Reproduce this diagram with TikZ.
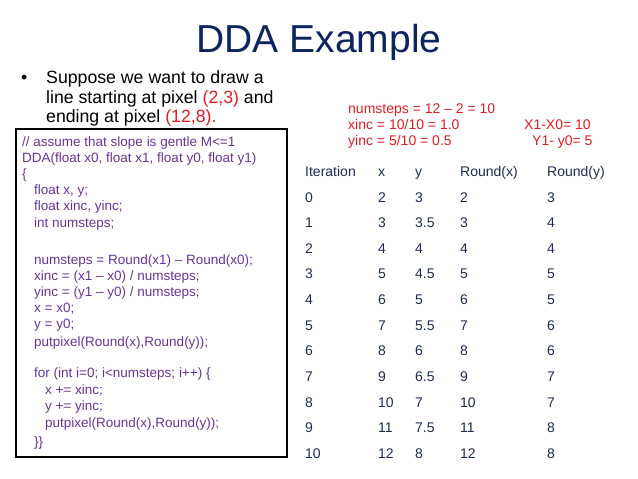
\documentclass[tikz,border=0pt]{standalone}
\usepackage{fontspec}
\setmainfont{Liberation Sans}
\usepackage{xcolor}
\usepackage{tikz}
\definecolor{titleblue}{RGB}{14,36,94}
\definecolor{slidered}{RGB}{222,30,36}
\definecolor{codepurple}{RGB}{104,52,150}
\definecolor{tabblue}{RGB}{30,44,82}

\begin{document}
\begin{tikzpicture}[x=1pt, y=-1pt,
    every node/.style={inner sep=0pt, anchor=base west},
    bullettext/.style={font=\fontsize{17.7}{20}\selectfont},
    code/.style={text=codepurple, font=\fontsize{13.5}{16}\selectfont},
    tab/.style={text=tabblue, font=\fontsize{14}{16}\selectfont},
    calc/.style={text=slidered, font=\fontsize{14}{16}\selectfont}]
    \useasboundingbox (0,0) rectangle (638,479);

    % Title
    \node[anchor=base, text=titleblue, font=\fontsize{39}{44}\selectfont] (title) at (319,52.7) {DDA Example};

    % Bullet point
    \node[bullettext] (dot) at (21,83.3) {•};
    \node[bullettext] (bl1) at (46,83.3) {Suppose we want to draw a};
    \node[bullettext] (bl2) at (46,103) {line starting at pixel \textcolor{slidered}{(2,3)} and};
    \node[bullettext] (bl3) at (46,122.6) {ending at pixel \textcolor{slidered}{(12,8).}};

    % Code box
    \draw[line width=1.2pt] (16,129) rectangle (287,457);
    \node[code] (c0) at (22,146.5) {// assume that slope is gentle M<=1};
    \node[code] (c1) at (22,162.5) {DDA(float x0, float x1, float y0, float y1)};
    \node[code] (c2) at (22,178.5) {\{};
    \node[code] (c3) at (34,194.5) {float x, y;};
    \node[code] (c4) at (34,210.5) {float xinc, yinc;};
    \node[code] (c5) at (34,227) {int numsteps;};
    \node[code] (c7) at (34,264.5) {numsteps = Round(x1) -- Round(x0);};
    \node[code] (c8) at (34,280.5) {xinc = (x1 -- x0) / numsteps;};
    \node[code] (c9) at (34,296.5) {yinc = (y1 -- y0) / numsteps;};
    \node[code] (c10) at (34,312.5) {x = x0;};
    \node[code] (c11) at (34,328.5) {y = y0;};
    \node[code] (c12) at (34,346) {putpixel(Round(x),Round(y));};
    \node[code] (c14) at (34,377.5) {for (int i=0; i<numsteps; i++) \{};
    \node[code] (c15) at (45,394) {x += xinc;};
    \node[code] (c16) at (45,410) {y += yinc;};
    \node[code] (c17) at (45,427) {putpixel(Round(x),Round(y));};
    \node[code] (c18) at (34,446) {\}\}};

    % Worked values
    \node[calc] (ns) at (348,113) {numsteps = 12 -- 2 = 10};
    \node[calc] (xi) at (348,129) {xinc = 10/10 = 1.0};
    \node[calc] (yi) at (348,145) {yinc = 5/10 = 0.5};
    \node[calc] (dx) at (524,129) {X1-X0= 10};
    \node[calc] (dy) at (532,145) {Y1- y0= 5};

    % Table of iterations
    \node[tab] (hit) at (305,176) {Iteration};
    \node[tab] (hx) at (378,176) {x};
    \node[tab] (hy) at (415,176) {y};
    \node[tab] (hrx) at (460,176) {Round(x)};
    \node[tab] (hry) at (547,176) {Round(y)};
    \foreach \n/\xv/\yv/\rx/\ry in {0/2/3/2/3, 1/3/3.5/3/4, 2/4/4/4/4, 3/5/4.5/5/5,
        4/6/5/6/5, 5/7/5.5/7/6, 6/8/6/8/6, 7/9/6.5/9/7, 8/10/7/10/7,
        9/11/7.5/11/8, 10/12/8/12/8} {
        \node[tab] (it\n) at (305,202+25.65*\n) {\n};
        \node[tab] (xv\n) at (378,202+25.65*\n) {\xv};
        \node[tab] (yv\n) at (415,202+25.65*\n) {\yv};
        \node[tab] (rx\n) at (460,202+25.65*\n) {\rx};
        \node[tab] (ry\n) at (547,202+25.65*\n) {\ry};
    }
\end{tikzpicture}
\end{document}
